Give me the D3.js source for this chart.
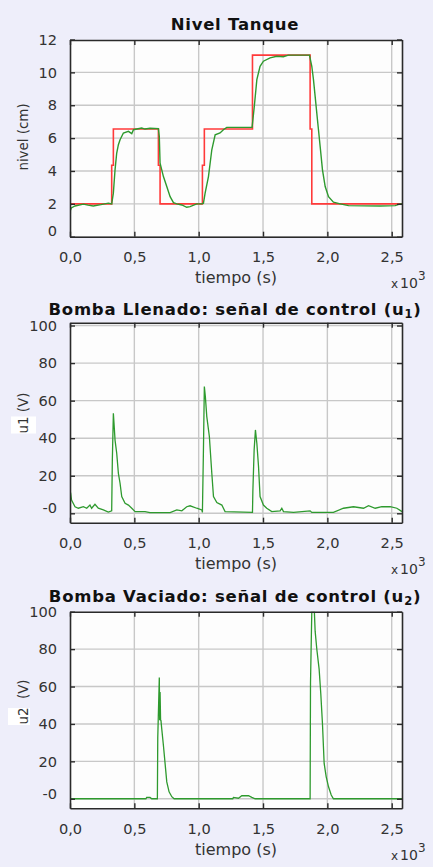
<!DOCTYPE html>
<html><head><meta charset="utf-8">
<script src="https://cdn.jsdelivr.net/npm/d3@7"></script>
<style>
html,body{margin:0;padding:0;background:#eeeefa;}
svg{display:block;}
text{font-family:"DejaVu Sans",Verdana,sans-serif;}
</style></head><body>
<script>
// ---------- DATA ----------
const xTickValues = [0, 500, 1000, 1500, 2000, 2500];
const xTickLabels = ["0,0", "0,5", "1,0", "1,5", "2,0", "2,5"];
const levelTicks = [0, 2, 4, 6, 8, 10, 12];
const levelTickLabels = ["0", "2", "4", "6", "8", "10", "12"];
const voltTicks = [0, 20, 40, 60, 80, 100];
const voltTickLabels = ["-0", "20", "40", "60", "80", "100"];

// setpoint (red)
const refTime = [0, 324, 324, 337, 337, 687, 687, 700, 700, 1029, 1029, 1044, 1044, 1418, 1418, 1866, 1866, 1879, 1879, 2580];
const refLevel = [2, 2, 4.35, 4.35, 6.55, 6.55, 4.35, 4.35, 2, 2, 4.35, 4.35, 6.55, 6.55, 11.05, 11.05, 6.55, 6.55, 2, 2];

// measured level (green)
const levelTime = [0,3,10,39,104,140,181,240,298,324,337,350,363,376,389,415,454,480,493,557,583,622,687,694,700,726,752,778,804,830,869,907,933,985,1024,1037,1050,1076,1102,1128,1166,1192,1218,1415,1431,1452,1477,1503,1555,1607,1658,1697,1861,1879,1892,1905,1923,1944,1962,1983,2009,2047,2100,2164,2410,2527,2566,2580];
const levelValue = [0,1.6,1.75,1.87,1.98,1.92,1.87,1.95,2.04,2.0,2.65,4.07,5.09,5.6,5.9,6.31,6.41,6.27,6.51,6.61,6.55,6.6,6.58,6.1,4.48,3.66,3.05,2.44,2.07,2.0,1.93,1.79,1.83,2.0,2.0,2.04,2.65,3.66,5.29,6.2,6.31,6.51,6.65,6.65,7.83,9.56,10.37,10.68,10.88,10.98,10.95,11.05,11.05,10.37,9.56,8.54,7.12,5.49,4.07,3.05,2.44,2.1,2.0,1.89,1.87,1.89,2.0,2.0];

// control u1
const u1Time = [0,5,12,39,65,104,130,155,168,194,220,259,298,324,329,337,342,350,363,376,389,402,428,454,480,506,583,622,778,830,869,907,933,985,1024,1029,1037,1044,1052,1063,1083,1102,1115,1141,1180,1205,1418,1421,1431,1441,1452,1465,1477,1503,1529,1568,1633,1646,1659,1737,1866,1879,2047,2125,2203,2281,2320,2372,2423,2488,2540,2580];
const u1Value = [10.7,10.7,7,3.5,2.7,3.5,2.7,4.4,2.7,4.8,2.7,1.8,0.7,1.3,28.4,53.3,48,39,32,21.3,16,8.9,5.3,4.4,2.7,0.9,0.9,0.4,0.4,1.8,1.3,3.5,4,2.7,1.8,0.5,33.8,67.5,62,51.5,40.9,21.3,8.9,5.7,4.4,0.9,0.5,11.6,33.8,44.4,37.3,24.9,8.9,4.4,2.7,0.9,1.3,2.7,0.9,0.5,1.3,0.5,0.5,2.7,3.5,2.7,4.1,2.7,3.5,3.5,2.7,0.9];

// control u2
const u2Time = [0,590,596,622,635,679,682,694,697,700,704,707,712,726,739,752,770,791,809,1265,1270,1309,1335,1387,1413,1439,1866,1869,1879,1899,1905,1918,1936,1949,1962,1975,1991,2009,2030,2047,2580];
const u2Value = [0,0,0.7,0.7,0,0,32.6,64.8,42,57,42,41.8,38,28.5,18.8,9,3.7,1.1,0,0,0.7,0.3,1.6,1.6,0.7,0,0,62,100,100,89.6,79.9,69.3,56,40,18.9,11.7,6.4,2,0,0];

// ---------- DRAW ----------
const W = 433, H = 867;
const svg = d3.select("body").append("svg").attr("width", W).attr("height", H);
svg.append("rect").attr("width", W).attr("height", H).attr("fill", "#eeeefa");

const left = 70, right = 402;
const x = d3.scaleLinear().domain([0, 2580]).range([left, right]);

const panels = [
  {top: 40, bottom: 236.7, ydom: [0, 12], yrangeTop: 39.5, ticks: levelTicks, tickLabels: levelTickLabels,
   titleY: 29.5, title: ["Nivel Tanque"], ylabel: "nivel (cm)", ylabelY: 137, box: null,
   series: [{t: refTime, v: refLevel, color: "#ff3a3a", w: 1.6}, {t: levelTime, v: levelValue, color: "#2e9a2e", w: 1.4}]},
  {top: 322.7, bottom: 522.7, ydom: [-5, 101.5], ticks: voltTicks, tickLabels: voltTickLabels,
   titleY: 315, title: ["Bomba Llenado: señal de control (u", "1", ")"], ylabel: "u1 (V)", ylabelY: 413,
   box: [11, 416.5, 25, 17],
   series: [{t: u1Time, v: u1Value, color: "#2e9a2e", w: 1.3}]},
  {top: 611.7, bottom: 808.3, ydom: [-5.1, 100], ticks: voltTicks, tickLabels: voltTickLabels,
   titleY: 601.7, title: ["Bomba Vaciado: señal de control (u", "2", ")"], ylabel: "u2\u00a0\u00a0(V)", ylabelY: 702,
   box: [8, 708, 22, 17],
   series: [{t: u2Time, v: u2Value, color: "#2e9a2e", w: 1.3}]}
];

panels.forEach((p, i) => {
  const g = svg.append("g");
  const y = d3.scaleLinear().domain(p.ydom).range([p.bottom, p.yrangeTop !== undefined ? p.yrangeTop : p.top]);
  const cid = "clip" + i;
  svg.append("clipPath").attr("id", cid).append("rect")
    .attr("x", left).attr("y", p.top).attr("width", right - left).attr("height", p.bottom - p.top);

  // plot background
  g.append("rect").attr("x", left).attr("y", p.top).attr("width", right - left).attr("height", p.bottom - p.top)
    .attr("fill", "#fdfdfd");

  // gridlines
  const grid = g.append("g").attr("clip-path", `url(#${cid})`);
  grid.selectAll(".gx").data(xTickValues).join("line")
    .attr("x1", d => x(d)).attr("x2", d => x(d)).attr("y1", p.top).attr("y2", p.bottom)
    .attr("stroke", "#c8c8c8").attr("stroke-width", 1.4);
  grid.selectAll(".gy").data(p.ticks).join("line")
    .attr("x1", left).attr("x2", right).attr("y1", d => y(d)).attr("y2", d => y(d))
    .attr("stroke", "#c8c8c8").attr("stroke-width", 1.4);

  // series
  const plot = g.append("g").attr("clip-path", `url(#${cid})`);
  p.series.forEach(s => {
    const pts = s.t.map((t, k) => [t, s.v[k]]);
    plot.append("path").datum(pts)
      .attr("d", d3.line().x(d => x(d[0])).y(d => y(d[1])))
      .attr("fill", "none").attr("stroke", s.color).attr("stroke-width", s.w)
      .attr("stroke-linejoin", "miter");
  });

  // axes with inward ticks on all sides
  const fmtX = d => xTickLabels[xTickValues.indexOf(d)];
  const fmtY = d => p.tickLabels[p.ticks.indexOf(d)];
  const axB = g.append("g").attr("transform", `translate(0,${p.bottom})`)
    .call(d3.axisBottom(x).tickValues(xTickValues).tickSize(-5).tickPadding(15).tickFormat(fmtX).tickSizeOuter(0));
  const axT = g.append("g").attr("transform", `translate(0,${p.top})`)
    .call(d3.axisTop(x).tickValues(xTickValues).tickSize(-5).tickFormat("").tickSizeOuter(0));
  const axL = g.append("g").attr("transform", `translate(${left},0)`)
    .call(d3.axisLeft(y).tickValues(p.ticks).tickSize(-5).tickPadding(13).tickFormat(fmtY).tickSizeOuter(0));
  const axR = g.append("g").attr("transform", `translate(${right},0)`)
    .call(d3.axisRight(y).tickValues(p.ticks).tickSize(-5).tickFormat("").tickSizeOuter(0));
  [axB, axT, axL, axR].forEach(a => {
    a.select(".domain").attr("stroke", "#2a2a2a").attr("stroke-width", 1.6);
    a.selectAll(".tick line").attr("stroke", "#2a2a2a").attr("stroke-width", 1.4);
    a.selectAll("text").attr("font-family", "DejaVu Sans, Verdana, sans-serif")
      .attr("font-size", 14.6).attr("fill", "#333");
  });
  // lowest y label shifted up
  axL.selectAll(".tick text").filter(d => d === 0).attr("dy", "-0.05em");

  // title
  const tt = svg.append("text").attr("x", (left + right) / 2 - 1).attr("y", p.titleY)
    .attr("text-anchor", "middle").attr("font-weight", "bold").attr("font-size", 16.5)
    .attr("letter-spacing", "0.75px").attr("fill", "#111");
  tt.append("tspan").text(p.title[0]);
  if (p.title.length > 1) {
    tt.append("tspan").attr("font-size", 11.5).attr("dy", 3).text(p.title[1]);
    tt.append("tspan").attr("dy", -3).text(p.title[2]);
  }

  // x axis label
  svg.append("text").attr("x", 236).attr("y", p.bottom + 46.5).attr("text-anchor", "middle")
    .attr("font-size", 16).attr("fill", "#333").text("tiempo (s)");
  // x 10^3
  const ex = svg.append("text").attr("x", 391).attr("y", p.bottom + 51.5).attr("font-size", 14).attr("fill", "#333");
  ex.append("tspan").attr("font-size", 12).text("x");
  ex.append("tspan").attr("dx", 2).text("10");
  ex.append("tspan").attr("font-size", 12).attr("dy", -8).text("3");

  // y label
  if (p.box) {
    svg.append("rect").attr("x", p.box[0]).attr("y", p.box[1]).attr("width", p.box[2]).attr("height", p.box[3])
      .attr("fill", "#ffffff");
  }
  svg.append("text").attr("transform", `translate(28,${p.ylabelY}) rotate(-90)`)
    .attr("text-anchor", "middle").attr("font-size", 13.4).attr("fill", "#333").text(p.ylabel);
});
</script>
</body></html>
